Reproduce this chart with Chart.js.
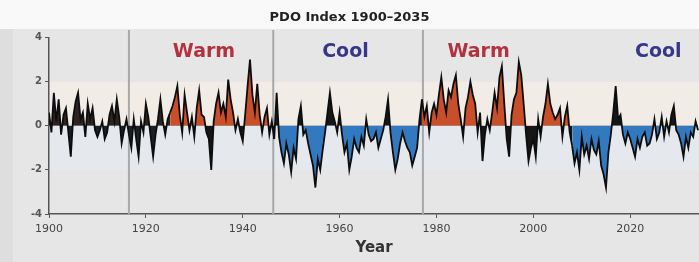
<!DOCTYPE html>
<html>
<head>
<meta charset="utf-8">
<script src="https://cdn.jsdelivr.net/npm/chart.js@4/dist/chart.umd.min.js"></script>
<style>
  html, body { margin: 0; padding: 0; background: #e6e6e6; }
  #wrap { width: 699px; height: 262px; }
</style>
</head>
<body>
<div id="wrap"><canvas id="pdoChart" width="699" height="262"></canvas></div>
<script>
// PDO index, two readings per year starting 1900.0
const startYear = 1900;
const step = 0.5;
const pdo = [
  0.6, -0.3,  1.5, 0.2,  1.2, -0.4,  0.5, 0.8,  -0.3, -1.4,   // 1900-1904
  0.4, 1.1,  1.5, 0.3,  0.6, -0.5,  1.0, 0.3,  0.8, -0.2,     // 1905-1909
  -0.5, -0.2,  0.2, -0.6,  -0.3, 0.5,  0.9, 0.2,  1.2, 0.4,   // 1910-1914
  -0.8, -0.2,  0.3, -0.4,  -1.0, 0.3,  -0.6, -1.4,  0.2, -0.3, // 1915-1919
  1.0, 0.4,  -0.5, -1.4,  -0.4, 0.3,  1.2, 0.2,  -0.4, 0.3,   // 1920-1924
  0.6, 0.9,  1.3, 1.8,  0.5, -0.3,  1.4, 0.6,  -0.2, 0.4,     // 1925-1929
  -0.5, 0.8,  1.6, 0.5,  0.4, -0.3,  -0.6, -2.0,  0.2, 1.0,   // 1930-1934
  1.5, 0.6,  1.0, 0.4,  2.1, 1.2,  0.6, -0.2,  0.3, -0.3,     // 1935-1939
  -0.7, 0.5,  1.8, 3.0,  1.4, 0.6,  1.9, 0.5,  -0.3, 0.4,     // 1940-1944
  0.8, -0.4,  0.2, -0.6,  1.5, -0.5,  -1.2, -1.7,  -0.8, -1.3, // 1945-1949
  -2.1, -1.0,  -1.5, 0.3,  0.9, -0.4,  -0.2, -0.8,  -1.3, -1.8, // 1950-1954
  -2.8, -1.5,  -2.0, -1.1,  -0.3, 0.6,  1.5, 0.6,  0.2, -0.3, // 1955-1959
  0.6, -0.4,  -1.2, -0.8,  -2.0, -1.4,  -0.6, -1.0,  -1.2, -0.5, // 1960-1964
  -0.9, 0.3,  -0.4, -0.7,  -0.6, -0.3,  -1.0, -0.6,  -0.2, 0.4, // 1965-1969
  1.2, -0.3,  -1.2, -2.0,  -1.5, -0.8,  -0.3, -0.7,  -1.0, -1.2, // 1970-1974
  -1.8, -1.4,  -1.0, 0.3,  1.2, 0.4,  0.9, -0.3,  0.6, 1.0,   // 1975-1979
  0.5, 1.4,  2.2, 1.2,  0.6, 1.6,  1.3, 1.9,  2.3, 1.0,       // 1980-1984
  0.3, -0.5,  0.8, 1.3,  2.0, 1.4,  1.0, -0.3,  0.6, -1.6,    // 1985-1989
  -0.4, 0.3,  -0.2, 0.6,  1.5, 0.8,  2.2, 2.7,  1.0, -0.6,    // 1990-1994
  -1.4, 0.5,  1.2, 1.5,  2.9, 2.3,  1.0, -0.4,  -1.6, -1.0,   // 1995-1999
  -0.6, -1.4,  0.3, -0.5,  0.4, 1.0,  1.9, 1.0,  0.6, 0.3,    // 2000-2004
  0.5, 0.8,  -0.5, 0.4,  0.9, -0.3,  -0.9, -1.7,  -1.2, -2.0, // 2005-2009
  -0.5, -1.3,  -0.9, -1.5,  -0.6, -1.1,  -1.3, -0.7,  -1.8, -2.2, // 2010-2014
  -2.8, -1.2,  -0.4, 0.6,  1.8, 0.3,  0.5, -0.4,  -0.8, -0.3, // 2015-2019
  -0.6, -1.0,  -1.4, -0.6,  -1.0, -0.5,  -0.3, -0.9,  -0.8, -0.4, // 2020-2024
  0.3, -0.6,  -0.3, 0.4,  -0.5, 0.2,  -0.3, 0.5,  0.9, -0.2,  // 2025-2029
  -0.4, -0.8,  -1.4, -0.5,  -1.0, -0.3,  -0.5, 0.2,  -0.2     // 2030-2034
];

const xTicks = [1900, 1920, 1940, 1960, 1980, 2000, 2020];
const yTicks = [-4, -2, 0, 2, 4];

// regime periods and their fills
const regimeBreaks = [1900, 1925, 1946.5, 1977, 2008, 2034];
const regimeAbove = ['#2e2320', '#c94f2a', '#161616', '#c94f2a', '#161616'];
const regimeBelow = ['#1a1f2a', '#161616', '#3379bf', '#161616', '#3379bf'];
const regimeNames = ['Warm', 'Cool', 'Warm', 'Cool'];
const regimeNameYears = [1932, 1961.2, 1988.7, 2025.8];
const regimeNameColors = ['#b3323f', '#36368a', '#b3323f', '#36368a'];
const shiftYears = [1916.5, 1946.3, 1977.2];

const points = pdo.map((v, i) => ({ x: startYear + i * step, y: v }));

const datasets = [];
for (let r = 0; r < regimeBreaks.length - 1; r++) {
  datasets.push({
    data: points.filter(p => p.x >= regimeBreaks[r] && p.x <= regimeBreaks[r + 1]),
    borderColor: '#0d0d0d',
    borderWidth: 1.8,
    pointRadius: 0,
    tension: 0,
    fill: { target: 'origin', above: regimeAbove[r], below: regimeBelow[r] }
  });
}

const backdrop = {
  id: 'backdrop',
  beforeDraw(chart) {
    const { ctx, chartArea: a, scales: { y } } = chart;
    ctx.save();
    ctx.fillStyle = '#e6e6e6';
    ctx.fillRect(0, 0, chart.width, chart.height);
    ctx.fillStyle = '#f9f9f9';
    ctx.fillRect(0, 0, chart.width, 29);
    ctx.fillStyle = '#dedede';
    ctx.fillRect(0, 29, 13, chart.height - 29);
    // soft bands either side of zero
    ctx.fillStyle = 'rgba(246,238,231,0.7)';
    ctx.fillRect(a.left, y.getPixelForValue(2), a.width, y.getPixelForValue(0) - y.getPixelForValue(2));
    ctx.fillStyle = 'rgba(228,234,240,0.7)';
    ctx.fillRect(a.left, y.getPixelForValue(0), a.width, y.getPixelForValue(-2) - y.getPixelForValue(0));
    ctx.restore();
  },
  beforeDatasetsDraw(chart) {
    const { ctx, chartArea: a, scales: { x } } = chart;
    ctx.save();
    ctx.strokeStyle = '#a8a8a8';
    ctx.lineWidth = 2;
    shiftYears.forEach(yr => {
      const px = x.getPixelForValue(yr);
      ctx.beginPath();
      ctx.moveTo(px, 30);
      ctx.lineTo(px, a.bottom);
      ctx.stroke();
    });
    ctx.restore();
  },
  afterDatasetsDraw(chart) {
    const { ctx, scales: { x, y } } = chart;
    ctx.save();
    ctx.font = 'bold 19px "DejaVu Sans"';
    ctx.textAlign = 'center';
    ctx.textBaseline = 'middle';
    regimeNames.forEach((t, i) => {
      ctx.fillStyle = regimeNameColors[i];
      ctx.fillText(t, x.getPixelForValue(regimeNameYears[i]), y.getPixelForValue(3.35));
    });
    ctx.restore();
  }
};

new Chart(document.getElementById('pdoChart'), {
  type: 'line',
  data: { datasets },
  plugins: [backdrop],
  options: {
    responsive: false,
    animation: false,
    devicePixelRatio: 1,
    layout: { padding: 0 },
    plugins: {
      legend: { display: false },
      tooltip: { enabled: false },
      title: {
        display: true,
        text: 'PDO Index 1900\u20132035',
        color: '#222',
        font: { family: 'DejaVu Sans', size: 13, weight: 'bold' },
        padding: { top: 10, bottom: 12 }
      }
    },
    scales: {
      x: {
        type: 'linear',
        min: 1900,
        max: 2034.2,
        afterBuildTicks: s => { s.ticks = xTicks.map(v => ({ value: v })); },
        afterFit: s => { s.height = 48; },
        ticks: { color: '#444', font: { family: 'DejaVu Sans', size: 11 }, padding: 5, maxRotation: 0, callback: v => String(v) },
        grid: { drawOnChartArea: false, color: '#555', tickLength: 4 },
        border: { color: '#555', width: 1.5 },
        title: { display: true, text: 'Year', color: '#333', font: { family: 'DejaVu Sans', size: 15, weight: 'bold' }, padding: { top: 0, bottom: 5 } }
      },
      y: {
        min: -4,
        max: 4,
        afterBuildTicks: s => { s.ticks = yTicks.map(v => ({ value: v })); },
        afterFit: s => { s.width = 49; },
        ticks: { color: '#555', font: { family: 'DejaVu Sans', size: 10, weight: 'bold' }, padding: 3 },
        grid: { drawOnChartArea: false, color: '#555', tickLength: 4 },
        border: { color: '#555', width: 1.5 }
      }
    }
  }
});
</script>
</body>
</html>
